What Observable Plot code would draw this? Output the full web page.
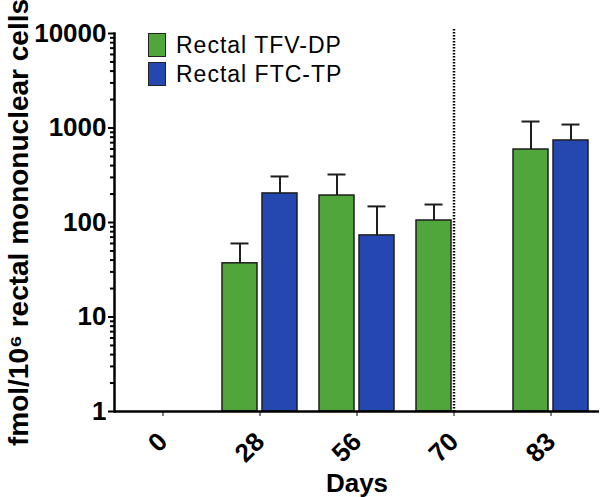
<!DOCTYPE html>
<html>
<head>
<meta charset="utf-8">
<script src="https://cdn.jsdelivr.net/npm/d3@7"></script>
<script src="https://cdn.jsdelivr.net/npm/@observablehq/plot@0.6"></script>
<style>
  body { margin: 0; background: #fff; }
  #wrap { position: relative; width: 600px; height: 497px; font-family: "Liberation Sans", Arial, sans-serif; }
  #legend { position: absolute; left: 148px; top: 33px; }
  .row { display: flex; align-items: flex-start; height: 24px; margin-bottom: 5px; }
  .sw { width: 18px; height: 24px; box-sizing: border-box; border: 1.5px solid #222; }
  .lab { margin-left: 10px; font-size: 23px; line-height: 24px; letter-spacing: 1px; color: #000; }
  svg g[aria-label="y-axis tick label"] text { font-size: 26px; font-weight: bold; }
  svg g[aria-label="y-axis label"] text { font-size: 28px; font-weight: bold; }
  svg g[aria-label="fx-axis tick label"] text { font-size: 26px; font-weight: bold; }
  svg g[aria-label="fx-axis label"] text { font-size: 26px; font-weight: bold; }
</style>
</head>
<body>
<div id="wrap"></div>
<script>
const days = ["0", "28", "56", "70", "83"];
const series = ["Rectal TFV-DP", "Rectal FTC-TP"];
const colors = ["#50a63a", "#2547b0"];
const tfvMean  = [null, 37, 193, 105, 592];
const tfvUpper = [null, 60, 322, 155, 1171];
const ftcMean  = [null, 203, 73, null, 738];
const ftcUpper = [null, 307, 148, null, 1088];
const yMajor = [1, 10, 100, 1000, 10000];
const dividerDays = ["70"];

// keep rows with missing values so every day keeps its facet
const rows = days.flatMap((d, i) => [
  {day: d, series: series[0], value: tfvMean[i], upper: tfvUpper[i]},
  {day: d, series: series[1], value: ftcMean[i], upper: ftcUpper[i]}
]);
const dividers = dividerDays.map(d => ({day: d}));

const yMinor = d3.scaleLog().domain([1, 10000]).ticks().filter(v => !yMajor.includes(v));

const chart = Plot.plot({
  width: 600,
  height: 497,
  marginLeft: 114,
  marginRight: 1,
  marginTop: 33,
  marginBottom: 86,
  style: {fontFamily: "'Liberation Sans', Arial, sans-serif", color: "#000", background: "#fff"},
  fx: {domain: days, padding: 0, label: "Days", labelAnchor: "center", labelOffset: 80,
       tickRotate: -45, tickSize: 5, tickPadding: 21},
  x: {domain: series, axis: null, paddingInner: 0.125, paddingOuter: 0.27},
  y: {type: "log", domain: [1, 10000], axis: null},
  color: {domain: series, range: colors},
  marks: [
    Plot.barY(rows, {fx: "day", x: "series", y1: 1, y2: "value", fill: "series", stroke: "#1e1e1e", strokeWidth: 1.5}),
    Plot.ruleX(rows, {fx: "day", x: "series", y1: "value", y2: "upper", stroke: "#1e1e1e", strokeWidth: 2}),
    Plot.tickY(rows, {fx: "day", x: "series", y: "upper", stroke: "#1e1e1e", strokeWidth: 2, insetLeft: 8.5, insetRight: 8.5}),
    Plot.ruleX(dividers, {fx: "day", x: null, stroke: "#000", strokeWidth: 2.5, strokeDasharray: "1.5 1.5", insetTop: -4}),
    Plot.ruleY([1], {stroke: "#000", strokeWidth: 2.5}),
    Plot.frame({anchor: "left", facetAnchor: "left", stroke: "#000", strokeWidth: 2.5}),
    Plot.axisY(yMinor, {tickSize: 4, tickFormat: () => "", label: null, strokeWidth: 2}),
    Plot.axisY(yMajor, {tickSize: 6, tickPadding: 2, tickFormat: d3.format("d"), strokeWidth: 2,
       label: "fmol/10\u2076 rectal mononuclear cells", labelAnchor: "center", labelArrow: "none", labelOffset: 106})
  ]
});

const wrap = document.getElementById("wrap");
wrap.appendChild(chart);

const legend = document.createElement("div");
legend.id = "legend";
series.forEach((s, i) => {
  const row = document.createElement("div");
  row.className = "row";
  const sw = document.createElement("div");
  sw.className = "sw";
  sw.style.background = colors[i];
  const lab = document.createElement("div");
  lab.className = "lab";
  lab.textContent = s;
  row.appendChild(sw);
  row.appendChild(lab);
  legend.appendChild(row);
});
wrap.appendChild(legend);
</script>
</body>
</html>
